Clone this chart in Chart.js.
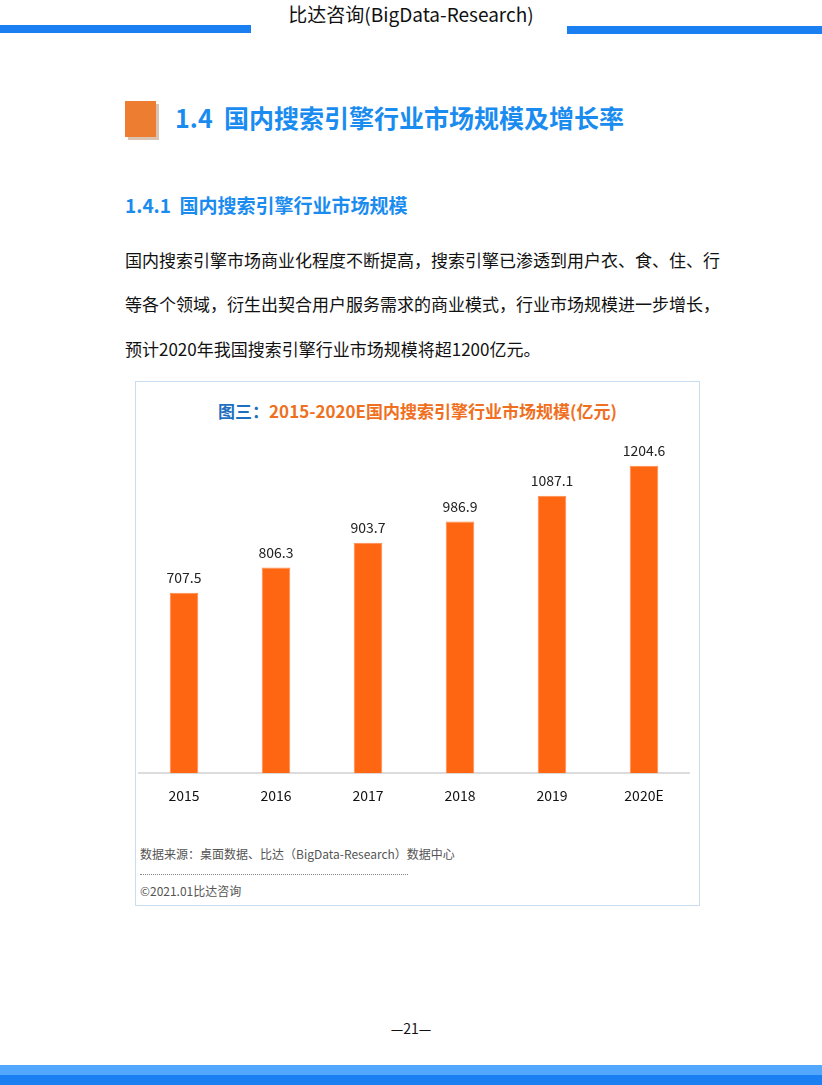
<!DOCTYPE html>
<html>
<head>
<meta charset="utf-8">
<script src="https://cdn.jsdelivr.net/npm/chart.js@4.4.0/dist/chart.umd.min.js"></script>
<style>
  html, body { margin: 0; padding: 0; background: #fff; }
  body { width: 822px; height: 1085px; position: relative; overflow: hidden;
         font-family: "Noto Sans CJK SC", "Noto Sans", sans-serif; color: #111; }
  .abs { position: absolute; }
  #hdr { left: 0; width: 822px; top: 0px; text-align: center; font-size: 19px; color: #111; }
  .barL { left: 0; top: 25px; width: 251px; height: 8px; background: #1a80f2; }
  .barR { left: 567px; top: 26px; width: 255px; height: 8px; background: #1a80f2; }
  #sq { left: 125px; top: 101px; width: 31px; height: 36px; background: #ed7d31;
        box-shadow: 3px 3px 0 #d9c4b1; }
  #h1 { left: 175px; top: 99px; font-size: 25px; font-weight: bold; color: #1a8cf0; white-space: nowrap; }
  #h2 { left: 125px; top: 191px; font-size: 19px; font-weight: bold; color: #1a8cf0; white-space: nowrap; }
  .p { left: 125px; width: 575px; font-size: 17px; color: #111; white-space: nowrap; }
  .j { text-align: justify; text-align-last: justify; }
  #box { left: 135px; top: 381px; width: 563px; height: 523px; border: 1px solid #c8dcf2; }
  #ttl { left: 135px; width: 565px; top: 398px; text-align: center; font-size: 17px; font-weight: bold; color: #f07022; white-space: nowrap; }
  #ttl span { color: #1f6fc0; }
  #src { left: 140px; top: 845px; font-size: 12px; color: #555; white-space: nowrap; }
  #dots { left: 140px; top: 874px; width: 268px; border-top: 1px dotted #888; }
  #cp { left: 140px; top: 882px; font-size: 12px; color: #555; white-space: nowrap; }
  #pg { left: 0; width: 822px; top: 1018px; text-align: center; font-size: 14px; color: #111; }
  .bl1 { left: 0; top: 1065px; width: 822px; height: 10px; background: #52a8ff; }
  .bl2 { left: 0; top: 1075px; width: 822px; height: 10px; background: #1a7ff0; }
  #wrap { left: 138px; top: 416px; width: 552px; height: 402px; }
</style>
</head>
<body>
<div class="abs" id="hdr">比达咨询(BigData-Research)</div>
<div class="abs barL"></div>
<div class="abs barR"></div>

<div class="abs" id="sq"></div>
<div class="abs" id="h1">1.4&nbsp;&nbsp;国内搜索引擎行业市场规模及增长率</div>
<div class="abs" id="h2">1.4.1&nbsp;&nbsp;国内搜索引擎行业市场规模</div>

<div class="abs p j" style="top:247px">国内搜索引擎市场商业化程度不断提高，搜索引擎已渗透到用户衣、食、住、行</div>
<div class="abs p j" style="top:291px">等各个领域，衍生出契合用户服务需求的商业模式，行业市场规模进一步增长，</div>
<div class="abs p" style="top:336px">预计2020年我国搜索引擎行业市场规模将超1200亿元。</div>

<div class="abs" id="box"></div>
<div class="abs" id="ttl"><span>图三：</span>2015-2020E国内搜索引擎行业市场规模(亿元)</div>
<div class="abs" id="wrap"><canvas id="chart"></canvas></div>
<div class="abs" id="src">数据来源：桌面数据、比达（BigData-Research）数据中心</div>
<div class="abs" id="dots"></div>
<div class="abs" id="cp">©2021.01比达咨询</div>

<div class="abs" id="pg">—21—</div>
<div class="abs bl1"></div>
<div class="abs bl2"></div>

<script>
const years = ['2015', '2016', '2017', '2018', '2019', '2020E'];
const marketSize = [707.5, 806.3, 903.7, 986.9, 1087.1, 1204.6];

// values printed above each bar
const valueLabels = {
  id: 'valueLabels',
  afterDatasetsDraw(chart) {
    const ctx = chart.ctx;
    const meta = chart.getDatasetMeta(0);
    ctx.save();
    ctx.font = '14px "Noto Sans CJK SC", "Open Sans", sans-serif';
    ctx.fillStyle = '#222';
    ctx.textAlign = 'center';
    ctx.textBaseline = 'bottom';
    meta.data.forEach((bar, i) => {
      ctx.fillText(marketSize[i].toFixed(1), bar.x, bar.y - 8);
    });
    ctx.restore();
  }
};

const ctx = document.getElementById('chart');
new Chart(ctx, {
  type: 'bar',
  data: {
    labels: years,
    datasets: [{
      data: marketSize,
      backgroundColor: '#ff6611',
      borderColor: '#ff8a4a',
      borderWidth: 1,
      barPercentage: 0.31,
      categoryPercentage: 1
    }]
  },
  options: {
    responsive: true,
    maintainAspectRatio: false,
    animation: false,
    layout: { padding: 0 },
    plugins: {
      legend: { display: false },
      tooltip: { enabled: false }
    },
    scales: {
      x: {
        grid: { display: false, drawTicks: false },
        border: { display: true, color: '#dcdcdc', width: 2 },
        ticks: {
          color: '#111',
          padding: 14,
          font: { size: 14, family: '"Noto Sans CJK SC", "Open Sans", sans-serif' }
        }
      },
      y: {
        display: false,
        min: 0,
        max: 1400
      }
    }
  },
  plugins: [valueLabels]
});
</script>
</body>
</html>
